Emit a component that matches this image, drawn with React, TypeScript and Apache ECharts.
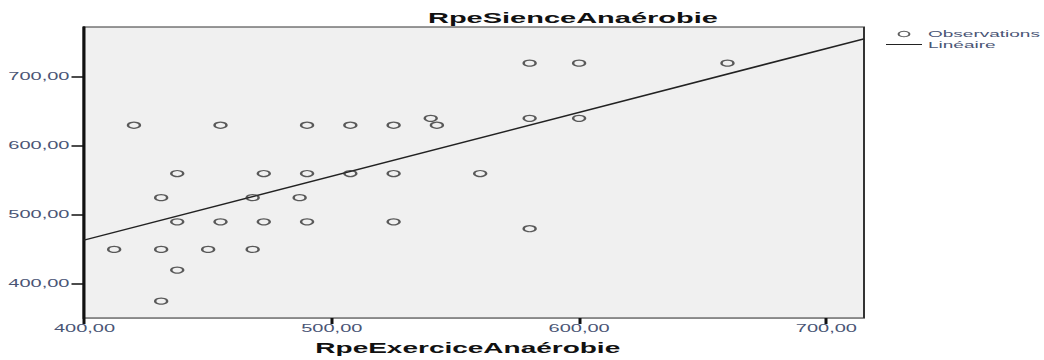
import React, { useEffect, useRef } from "react";
import * as echarts from "echarts";

// Observations (RpeExerciceAnaérobie, RpeSienceAnaérobie)
const exerciseValues = [
  580, 600, 660,
  540, 580, 600,
  420, 455, 490, 507.5, 525, 542.5,
  437.5, 472.5, 490, 507.5, 525, 560,
  431, 468, 487,
  437.5, 455, 472.5, 490, 525,
  580,
  412, 431, 450, 468,
  437.5,
  431,
];
const silenceValues = [
  720, 720, 720,
  640, 640, 640,
  630, 630, 630, 630, 630, 630,
  560, 560, 560, 560, 560, 560,
  525, 525, 525,
  490, 490, 490, 490, 490,
  480,
  450, 450, 450, 450,
  420,
  375,
];

// Linear fit line endpoints
const fitX = [399.6, 715.2];
const fitY = [463.3, 755.3];

const xTicks = [400, 500, 600, 700];
const yTicks = [400, 500, 600, 700];

const xRange = [399.6, 715.2];
const yRange = [350.6, 772.4];

const fmt = (v: number) => v.toFixed(2).replace(".", ",");

const FONT = "'Liberation Sans', Arial, sans-serif";
const LABEL_COLOR = "#4a5575";

export default function App() {
  const ref = useRef<HTMLDivElement>(null);

  useEffect(() => {
    if (!ref.current) return;
    const chart = echarts.init(ref.current, undefined, { renderer: "svg" });
    const points = exerciseValues.map((x, i) => [x, silenceValues[i]]);
    const fit = fitX.map((x, i) => [x, fitY[i]]);

    chart.setOption({
      animation: false,
      backgroundColor: "#ffffff",
      textStyle: { fontFamily: FONT },
      title: {
        text: "RpeSienceAnaérobie",
        left: 214,
        top: 10,
        padding: 0,
        textStyle: { fontFamily: FONT, fontSize: 14.5, fontWeight: "bold", color: "#111" },
      },
      legend: {
        orient: "vertical",
        left: 443,
        top: 29,
        padding: 0,
        itemWidth: 18,
        itemHeight: 5.5,
        itemGap: 0.5,
        data: [
          { name: "Observations", icon: "circle", itemStyle: { color: "rgba(0,0,0,0)", borderColor: "#333", borderWidth: 1 } },
          { name: "Linéaire", icon: "path://M0,0 L18,0 L18,1 L0,1 Z", itemStyle: { color: "#222", borderWidth: 0 } },
        ],
        textStyle: { fontFamily: FONT, fontSize: 9.5, color: LABEL_COLOR, lineHeight: 9, padding: [0, 0, 0, -2] },
      },
      grid: {
        left: 41.75,
        right: 90,
        top: 27,
        bottom: 34,
        show: true,
        backgroundColor: "#f0f0f0",
        borderColor: "#333",
        borderWidth: 1,
        containLabel: false,
      },
      xAxis: {
        type: "value",
        min: xRange[0],
        max: xRange[1],
        name: "RpeExerciceAnaérobie",
        nameLocation: "middle",
        nameGap: 23,
        nameTextStyle: { fontFamily: FONT, fontSize: 14, fontWeight: "bold", color: "#111", padding: [0, 6, 0, 0] },
        splitLine: { show: false },
        axisLine: { show: true, lineStyle: { color: "#888", width: 1 } },
        axisTick: { show: true, length: 6, customValues: xTicks, lineStyle: { color: "#111", width: 1.5 } },
        axisLabel: {
          customValues: xTicks,
          formatter: (v: number) => fmt(v),
          margin: 6,
          fontFamily: FONT,
          fontSize: 10,
          color: LABEL_COLOR,
        },
      },
      yAxis: {
        type: "value",
        min: yRange[0],
        max: yRange[1],
        splitLine: { show: false },
        axisLine: { show: true, lineStyle: { color: "#111", width: 1.5 } },
        axisTick: { show: true, length: 6, customValues: yTicks, lineStyle: { color: "#111", width: 1.5 } },
        axisLabel: {
          customValues: yTicks,
          formatter: (v: number) => fmt(v),
          margin: 7,
          fontFamily: FONT,
          fontSize: 10,
          color: LABEL_COLOR,
        },
      },
      series: [
        {
          name: "Observations",
          type: "scatter",
          symbol: "circle",
          symbolSize: 6,
          data: points,
          itemStyle: { color: "rgba(0,0,0,0)", borderColor: "#333", borderWidth: 1.2 },
          z: 3,
        },
        {
          name: "Linéaire",
          type: "line",
          data: fit,
          symbol: "none",
          showSymbol: false,
          lineStyle: { color: "#222", width: 1.4 },
          itemStyle: { color: "#222" },
          z: 2,
        },
      ],
    });

    return () => chart.dispose();
  }, []);

  return (
    <div
      ref={ref}
      style={{
        position: "absolute",
        left: 0,
        top: 0,
        width: 522,
        height: 360,
        transform: "scaleX(2)",
        transformOrigin: "0 0",
      }}
    />
  );
}
